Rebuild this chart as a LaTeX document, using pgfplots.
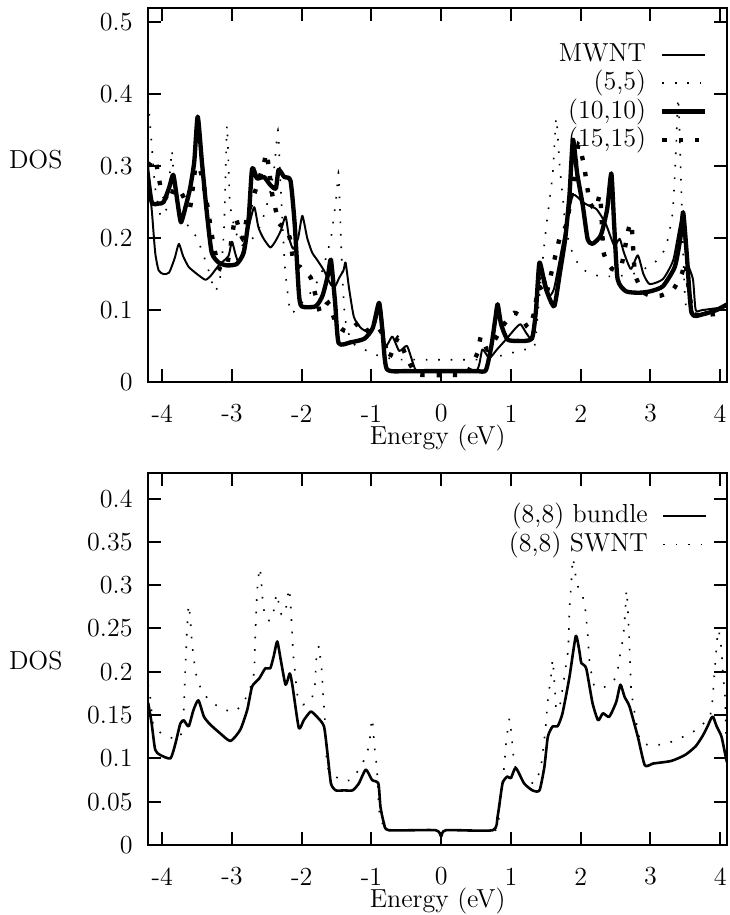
\documentclass[border=0pt]{standalone}
\usepackage{pgfplots}
\pgfplotsset{compat=1.18}
\pgfplotsset{
  dosaxis/.style={
    scale only axis, width=266.8pt,
    xmin=-4.2, xmax=4.1,
    xtick={-4,-3,-2,-1,0,1,2,3,4},
    xticklabels={-4,-3,-2,-1,0,1,2,3,4},
    tick align=inside, major tick length=6pt,
    xtick pos=both, ytick pos=both,
    axis line style={line width=1pt},
    every tick/.style={black, line width=0.9pt},
    xticklabel style={anchor=center, yshift=-14.5pt},
    yticklabel style={anchor=east, inner sep=0pt, xshift=-7pt},
    every axis x label/.style={at={(rel axis cs:0.5,0)}, anchor=center, yshift=-26pt},
    xlabel={Energy (eV)},
    legend plot pos=right,
    legend cell align=right,
    legend image code/.code={\draw[##1] (0pt,0pt) -- (19.8pt,0pt);},
    legend style={at={(rel axis cs:1,1)}, anchor=north east, xshift=-9pt, yshift=-13.5pt,
      draw=none, fill=none, inner sep=0pt, outer sep=0pt,
      nodes={inner sep=0.55pt, text height=9pt, text depth=3pt},
      column sep=6pt, row sep=0pt},
  },
  thinline/.style={black, line width=0.9pt, line join=round, smooth, tension=0.35},
  thickline/.style={black, line width=2pt, line join=round, smooth, tension=0.35},
  smalldots/.style={black, line width=0.75pt, dash pattern=on 0.75pt off 5pt, smooth, tension=0.3},
  bigdots/.style={black, line width=2pt, dash pattern=on 2pt off 5.5pt, smooth, tension=0.3},
}
\begin{document}
\fontsize{12}{14.4}\selectfont
\begin{tikzpicture}
% ---------------- top panel ----------------
\begin{axis}[dosaxis,
  at={(68.3pt,-176.0pt)}, anchor=south west,
  height=172.3pt, ymin=0, ymax=0.52,
  ytick={0,0.1,0.2,0.3,0.4,0.5},
  yticklabels={0,0.1,0.2,0.3,0.4,0.5},
  ylabel={DOS},
  every axis y label/.style={at={(rel axis cs:0,0.594)}, anchor=east, xshift=-35.3pt},
  legend style={yshift=-1.5pt},
]
\addplot[thinline] coordinates {
(-4.22,0.30) (-4.15,0.24) (-4.10,0.18) (-4.05,0.155) (-3.98,0.150) (-3.90,0.152)
(-3.82,0.172) (-3.76,0.192) (-3.70,0.175) (-3.62,0.160) (-3.50,0.150) (-3.38,0.142)
(-3.30,0.148) (-3.18,0.163) (-3.05,0.175) (-3.00,0.195) (-2.95,0.178) (-2.90,0.166)
(-2.82,0.19) (-2.76,0.215) (-2.68,0.243) (-2.62,0.215) (-2.55,0.200) (-2.45,0.187)
(-2.38,0.195) (-2.30,0.21) (-2.23,0.23) (-2.18,0.20) (-2.12,0.185) (-2.05,0.20)
(-1.99,0.231) (-1.92,0.20) (-1.85,0.18) (-1.78,0.17) (-1.68,0.155) (-1.58,0.135)
(-1.52,0.133) (-1.46,0.145) (-1.40,0.155) (-1.37,0.166) (-1.32,0.13) (-1.25,0.09)
(-1.15,0.075) (-1.05,0.07) (-0.95,0.08) (-0.87,0.105) (-0.80,0.05) (-0.70,0.063)
(-0.60,0.043) (-0.49,0.05) (-0.40,0.025) (-0.34,0.015) (0.00,0.015) (0.50,0.015)
(0.59,0.045) (0.69,0.033) (0.80,0.045) (0.93,0.059) (1.07,0.075) (1.14,0.08)
(1.22,0.068) (1.29,0.061) (1.35,0.09) (1.40,0.14) (1.48,0.145) (1.55,0.12)
(1.62,0.13) (1.72,0.18) (1.80,0.22) (1.89,0.26) (2.03,0.25) (2.12,0.245)
(2.23,0.24) (2.36,0.22) (2.48,0.19) (2.56,0.199) (2.62,0.18) (2.72,0.157)
(2.82,0.176) (2.90,0.15) (2.99,0.136) (3.18,0.143) (3.33,0.17) (3.45,0.227)
(3.52,0.17) (3.61,0.143) (3.65,0.10) (3.75,0.10) (4.14,0.105)
};
\addlegendentry{MWNT}
\addplot[smalldots] coordinates {
(-4.20,0.39) (-4.15,0.33) (-4.10,0.27) (-4.02,0.23) (-3.94,0.24) (-3.88,0.30)
(-3.86,0.322) (-3.82,0.27) (-3.75,0.24) (-3.65,0.22) (-3.50,0.20) (-3.35,0.16)
(-3.24,0.126) (-3.16,0.15) (-3.11,0.22) (-3.07,0.357) (-3.03,0.25) (-2.95,0.21)
(-2.85,0.19) (-2.70,0.20) (-2.58,0.22) (-2.46,0.26) (-2.39,0.30) (-2.34,0.35)
(-2.30,0.27) (-2.24,0.16) (-2.16,0.096) (-2.05,0.105) (-1.90,0.12) (-1.72,0.15)
(-1.58,0.20) (-1.50,0.26) (-1.47,0.29) (-1.43,0.18) (-1.38,0.09) (-1.28,0.055)
(-1.10,0.045) (-0.95,0.038) (-0.75,0.033) (-0.60,0.031) (0.60,0.031) (0.80,0.035)
(1.00,0.04) (1.20,0.045) (1.34,0.05) (1.43,0.143) (1.50,0.21) (1.60,0.29)
(1.65,0.367) (1.70,0.30) (1.75,0.25) (1.79,0.21) (1.90,0.175) (2.02,0.157)
(2.13,0.152) (2.27,0.147) (2.50,0.147) (2.75,0.15) (3.04,0.164) (3.18,0.18)
(3.23,0.19) (3.32,0.236) (3.37,0.33) (3.40,0.395) (3.44,0.28) (3.48,0.15)
(3.52,0.10) (3.70,0.098) (4.10,0.10)
};
\addlegendentry{(5,5)}
\addplot[thickline] coordinates {
(-4.22,0.30) (-4.15,0.25) (-4.05,0.248) (-3.98,0.25) (-3.90,0.27) (-3.84,0.288)
(-3.78,0.25) (-3.73,0.222) (-3.66,0.245) (-3.60,0.269) (-3.54,0.306) (-3.49,0.369)
(-3.43,0.306) (-3.36,0.236) (-3.29,0.180) (-3.19,0.166) (-3.07,0.162) (-2.93,0.164)
(-2.83,0.180) (-2.76,0.227) (-2.71,0.297) (-2.64,0.283) (-2.54,0.285) (-2.45,0.274)
(-2.37,0.269) (-2.33,0.295) (-2.25,0.285) (-2.16,0.28) (-2.10,0.22) (-2.04,0.124)
(-2.00,0.105) (-1.80,0.105) (-1.70,0.12) (-1.62,0.15) (-1.58,0.17) (-1.52,0.11)
(-1.47,0.054) (-1.30,0.055) (-1.10,0.06) (-0.98,0.075) (-0.89,0.11) (-0.84,0.07)
(-0.78,0.018) (-0.50,0.015) (0.00,0.015) (0.50,0.015) (0.64,0.016) (0.72,0.05)
(0.78,0.09) (0.81,0.108) (0.86,0.08) (0.95,0.059) (1.10,0.057) (1.30,0.06)
(1.36,0.10) (1.41,0.166) (1.50,0.13) (1.62,0.105) (1.70,0.15) (1.78,0.20)
(1.84,0.26) (1.89,0.337) (1.95,0.29) (2.03,0.246) (2.10,0.199) (2.17,0.192)
(2.29,0.204) (2.38,0.24) (2.44,0.29) (2.48,0.22) (2.53,0.143) (2.65,0.126)
(2.84,0.124) (3.00,0.126) (3.18,0.133) (3.35,0.16) (3.43,0.20) (3.47,0.236)
(3.52,0.18) (3.59,0.096) (3.75,0.094) (3.95,0.10) (4.14,0.11)
};
\addlegendentry{(10,10)}
\addplot[bigdots] coordinates {
(-4.20,0.30) (-4.10,0.31) (-4.02,0.27) (-3.92,0.25) (-3.82,0.27) (-3.72,0.262)
(-3.60,0.243) (-3.52,0.30) (-3.44,0.29) (-3.36,0.25) (-3.28,0.20) (-3.19,0.159)
(-3.08,0.158) (-3.00,0.20) (-2.95,0.229) (-2.85,0.20) (-2.78,0.23) (-2.65,0.27)
(-2.54,0.304) (-2.50,0.318) (-2.42,0.26) (-2.32,0.22) (-2.23,0.215) (-2.17,0.20)
(-2.11,0.164) (-2.02,0.16) (-1.97,0.154) (-1.87,0.145) (-1.80,0.12) (-1.73,0.096)
(-1.62,0.11) (-1.50,0.08) (-1.35,0.07) (-1.15,0.084) (-1.05,0.07) (-0.95,0.065)
(-0.85,0.07) (-0.75,0.033) (-0.62,0.061) (-0.52,0.04) (-0.42,0.02) (-0.32,0.01)
(0.32,0.01) (0.42,0.02) (0.52,0.04) (0.57,0.063) (0.66,0.045) (0.78,0.06)
(0.90,0.08) (1.05,0.096) (1.15,0.09) (1.25,0.075) (1.33,0.095) (1.40,0.133)
(1.50,0.12) (1.60,0.16) (1.70,0.20) (1.80,0.22) (1.90,0.28) (1.97,0.33)
(2.05,0.30) (2.13,0.25) (2.22,0.24) (2.28,0.26) (2.33,0.18) (2.45,0.157)
(2.58,0.16) (2.68,0.21) (2.73,0.22) (2.78,0.15) (2.90,0.125) (3.00,0.12)
(3.15,0.12) (3.33,0.129) (3.45,0.15) (3.50,0.166) (3.55,0.13) (3.63,0.094)
(4.10,0.096)
};
\addlegendentry{(15,15)}
\end{axis}
% ---------------- bottom panel ----------------
\begin{axis}[dosaxis,
  at={(68.3pt,-389.4pt)}, anchor=south west,
  height=171.6pt, ymin=0, ymax=0.43,
  ytick={0,0.05,0.1,0.15,0.2,0.25,0.3,0.35,0.4},
  yticklabels={0,0.05,0.1,0.15,0.2,0.25,0.3,0.35,0.4},
  ylabel={DOS},
  every axis y label/.style={at={(rel axis cs:0,0.496)}, anchor=east, xshift=-35.3pt},
]
\addplot[black, line width=1.2pt, line join=round, smooth, tension=0.35] coordinates {
(-4.20,0.164) (-4.15,0.14) (-4.10,0.11) (-4.03,0.104) (-3.88,0.10) (-3.81,0.117)
(-3.74,0.14) (-3.69,0.144) (-3.62,0.137) (-3.55,0.156) (-3.48,0.167) (-3.40,0.148)
(-3.31,0.139) (-3.17,0.129) (-3.02,0.12) (-2.88,0.133) (-2.78,0.156) (-2.71,0.183)
(-2.61,0.192) (-2.52,0.204) (-2.45,0.204) (-2.40,0.218) (-2.35,0.235) (-2.30,0.214)
(-2.23,0.185) (-2.17,0.198) (-2.13,0.183) (-2.04,0.135) (-1.97,0.144) (-1.87,0.154)
(-1.78,0.148) (-1.68,0.137) (-1.63,0.106) (-1.58,0.071) (-1.51,0.063) (-1.39,0.063)
(-1.27,0.063) (-1.18,0.071) (-1.08,0.087) (-0.99,0.075) (-0.90,0.071) (-0.87,0.044)
(-0.82,0.025) (-0.75,0.017) (-0.08,0.017) (0.00,0.010) (0.07,0.017) (0.74,0.017)
(0.81,0.033) (0.88,0.071) (0.95,0.079) (1.00,0.077) (1.07,0.089) (1.19,0.071)
(1.31,0.063) (1.41,0.063) (1.48,0.09) (1.53,0.125) (1.60,0.137) (1.67,0.137)
(1.74,0.152) (1.84,0.194) (1.93,0.241) (1.98,0.225) (2.01,0.21) (2.08,0.204)
(2.17,0.164) (2.25,0.144) (2.32,0.152) (2.41,0.148) (2.51,0.165) (2.57,0.185)
(2.63,0.171) (2.70,0.16) (2.82,0.125) (2.92,0.092) (3.04,0.094) (3.30,0.097)
(3.50,0.104) (3.65,0.114) (3.75,0.126) (3.82,0.137) (3.87,0.146) (3.90,0.148)
(3.95,0.137) (4.02,0.125) (4.09,0.098) (4.14,0.087)
};
\addlegendentry{(8,8) bundle}
\addplot[smalldots] coordinates {
(-4.20,0.185) (-4.17,0.17) (-4.13,0.14) (-4.03,0.13) (-3.88,0.124) (-3.74,0.124)
(-3.69,0.156) (-3.67,0.20) (-3.645,0.246) (-3.62,0.277) (-3.595,0.26) (-3.57,0.231)
(-3.52,0.20) (-3.48,0.187) (-3.39,0.173) (-3.27,0.164) (-3.14,0.157) (-2.96,0.154)
(-2.83,0.165) (-2.73,0.183) (-2.68,0.2) (-2.67,0.231) (-2.655,0.262) (-2.64,0.29)
(-2.625,0.306) (-2.60,0.32) (-2.58,0.306) (-2.55,0.275) (-2.50,0.26) (-2.43,0.26)
(-2.39,0.275) (-2.36,0.29) (-2.33,0.28) (-2.29,0.266) (-2.24,0.266) (-2.21,0.281)
(-2.18,0.296) (-2.16,0.28) (-2.14,0.25) (-2.12,0.22) (-2.10,0.204) (-2.06,0.173)
(-1.98,0.162) (-1.86,0.168) (-1.81,0.185) (-1.79,0.214) (-1.75,0.23) (-1.73,0.214)
(-1.71,0.20) (-1.69,0.17) (-1.67,0.15) (-1.63,0.09) (-1.44,0.075) (-1.30,0.075)
(-1.18,0.087) (-1.08,0.102) (-1.03,0.117) (-0.99,0.146) (-0.96,0.117) (-0.92,0.087)
(-0.89,0.04) (-0.84,0.025) (-0.80,0.017) (-0.08,0.017) (0.00,0.010) (0.07,0.017)
(0.78,0.017) (0.83,0.04) (0.90,0.087) (0.93,0.117) (0.98,0.146) (1.02,0.117)
(1.05,0.094) (1.12,0.079) (1.24,0.075) (1.34,0.071) (1.43,0.09) (1.50,0.137)
(1.53,0.167) (1.58,0.198) (1.60,0.214) (1.63,0.18) (1.65,0.156) (1.70,0.16)
(1.74,0.18) (1.82,0.225) (1.84,0.271) (1.865,0.302) (1.89,0.331) (1.93,0.31)
(1.98,0.293) (2.03,0.287) (2.07,0.27) (2.10,0.244) (2.13,0.21) (2.20,0.183)
(2.37,0.183) (2.51,0.194) (2.56,0.217) (2.61,0.24) (2.64,0.27) (2.66,0.294)
(2.69,0.25) (2.71,0.208) (2.73,0.175) (2.85,0.121) (3.01,0.115) (3.23,0.117)
(3.42,0.123) (3.66,0.133) (3.85,0.148) (3.89,0.167) (3.92,0.20) (3.96,0.24)
(3.98,0.248) (4.02,0.225) (4.04,0.198) (4.07,0.171) (4.09,0.12) (4.14,0.10)
};
\addlegendentry{(8,8) SWNT}
\end{axis}
\pgfresetboundingbox
\path[use as bounding box] (0pt,0pt) rectangle (336.4pt,-421.7pt);
\end{tikzpicture}
\end{document}
